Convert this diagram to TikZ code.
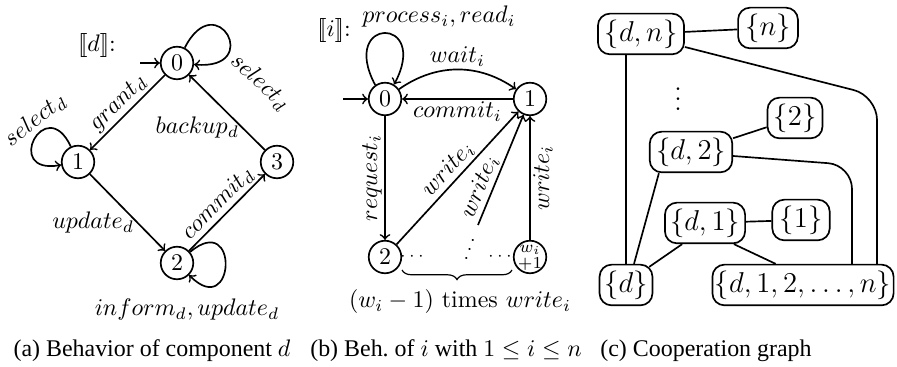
\documentclass[tikz,border=0pt]{standalone}
\usepackage{fontspec}
\newfontfamily\capfont{Liberation Serif}
\usetikzlibrary{positioning,calc,decorations.pathreplacing}

\begin{document}
\begin{tikzpicture}[x=0.418pt,y=0.418pt,
    state/.style={circle, draw, line width=0.7pt, minimum size=13.6pt, inner sep=0pt},
    trans/.style={->, line width=0.7pt},
    lbl/.style={inner sep=1pt},
    cbox/.style={draw, rounded corners=5pt, line width=0.7pt, minimum height=17pt, inner sep=2pt,
      font=\fontsize{11.5}{14}\selectfont},
    link/.style={line width=0.7pt},
    captext/.style={font=\capfont}
  ]
  \useasboundingbox (0,0) rectangle (897,367);
  % (a) behavior of component d
  \node[state] (s0) at (177,304) {$0$};
  \node[state] (s1) at (78,205) {$1$};
  \node[state] (s2) at (177,104) {$2$};
  \node[state] (s3) at (277,205) {$3$};
  \node (semd) at (97,321) {$[\![d]\!]$:};
  \coordinate (initd) at (140,304);
  \draw[trans] (initd) -- (s0);
  \draw[trans] (s0) -- node[lbl, sloped, above] {$grant_d$} (s1);
  \draw[trans] (s1) -- node[lbl, pos=0.63, left] {$update_d$} (s2);
  \draw[trans] (s2) -- node[lbl, sloped, above] {$commit_d$} (s3);
  \draw[trans] (s3) -- node[lbl, pos=0.3, left] {$backup_d$} (s0);
  \draw[trans] (s0.63) .. controls +(63:70) and +(-5:70) .. (s0.-5);
  \draw[trans] (s1.115) .. controls +(115:60) and +(190:60) .. (s1.190);
  \draw[trans] (s2.40) .. controls +(40:65) and +(-45:65) .. (s2.-45);
  \node[rotate=-43] (sel0) at (260,285) {$select_d$};
  \node[rotate=38] (sel1) at (35,247) {$select_d$};
  \node (inf2) at (187,57) {$inform_d, update_d$};
  % (b) behavior of component i
  \node[state] (t0) at (385,268) {$0$};
  \node[state] (t1) at (530,268) {$1$};
  \node[state] (t2) at (385,110) {$2$};
  \node[state] (tw) at (530,110) {};
  \node[font=\scriptsize, inner sep=0pt] (twa) at (530,117) {$w_i$};
  \node[font=\scriptsize, inner sep=0pt] (twb) at (530,103) {$+1$};
  \node (semi) at (334,336) {$[\![i]\!]$:};
  \node (proc) at (439,350) {$process_i, read_i$};
  \coordinate (initi) at (343,268);
  \coordinate (wm) at (478,142);
  \draw[trans] (initi) -- (t0);
  \draw[trans] (t0.125) .. controls +(118:78) and +(62:78) .. (t0.58);
  \draw[trans] (t0) to[bend left=35] node[lbl, above] {$wait_i$} (t1);
  \draw[trans] (t1) -- node[lbl, below] {$commit_i$} (t0);
  \draw[trans] (t0) -- node[lbl, rotate=90, anchor=south] {$request_i$} (t2);
  \draw[trans] (t2) -- node[lbl, sloped, above] {$write_i$} (t1);
  \draw[trans] (wm) -- node[lbl, pos=0.3, sloped, above] {$write_i$} (t1);
  \draw[trans] (tw) -- node[lbl, sloped, below] {$write_i$} (t1);
  \node[font=\scriptsize] (dots2) at (412,110) {$\cdots$};
  \node[font=\scriptsize] (dotsw) at (500,110) {$\cdots$};
  \node[font=\footnotesize, rotate=-20] (dotsm) at (472,124) {$\vdots$};
  \coordinate (brl) at (402,97);
  \coordinate (brr) at (512,97);
  \draw[decorate, decoration={brace, mirror, amplitude=4pt}, line width=0.5pt] (brl) -- (brr);
  \node (times) at (460,65) {$(w_i-1)$ times $write_i$};
  % (c) cooperation graph
  \node[cbox, minimum width=36pt] (dn) at (641,333) {$\{d,n\}$};
  \node[cbox, minimum width=25pt] (nn) at (768,339) {$\{n\}$};
  \node[font=\fontsize{11.5}{14}\selectfont] (vd) at (678,275) {$\vdots$};
  \node[cbox, minimum width=23pt] (n2) at (795,249) {$\{2\}$};
  \node[cbox, minimum width=34.5pt] (d2) at (691,215) {$\{d,2\}$};
  \node[cbox, minimum width=24pt] (n1) at (801,147) {$\{1\}$};
  \node[cbox, minimum width=33.5pt] (d1) at (705,144) {$\{d,1\}$};
  \node[cbox, minimum width=22pt] (dd) at (626,82) {$\{d\}$};
  \node[cbox, minimum width=75pt, inner xsep=1pt] (big) at (803,82) {$\{d,1,2,\ldots,n\}$};
  \coordinate (cn) at (877,271);
  \coordinate (c2) at (852,202);
  \draw[link] (dn) -- (nn);
  \draw[link] (dn.south -| dd.north) -- (dd.north);
  \draw[link, rounded corners=10pt] ($(dn.east)+(0,-13)$) -- (cn) -- (cn |- big.north);
  \draw[link] (d2) -- (n2);
  \draw[link, rounded corners=10pt] ($(d2.east)+(0,-4)$) -- (c2) -- (c2 |- big.north);
  \draw[link] ($(d2.south west)+(10,0)$) -- ($(dd.north)+(8,0)$);
  \draw[link] (d1) -- (n1);
  \draw[link] ($(d1.south west)+(18,0)$) -- ($(dd.north east)+(-4,-3)$);
  \draw[link] ($(d1.south east)+(-12,0)$) -- ($(big.north west)+(64,0)$);
  % captions
  \node[captext] (capa) at (152,16) {(a) Behavior of component $d$};
  \node[captext] (capb) at (446,16) {(b) Beh.\ of $i$ with $1\leq i\leq n$};
  \node[captext] (capc) at (706,16) {(c) Cooperation graph};
\end{tikzpicture}
\end{document}
